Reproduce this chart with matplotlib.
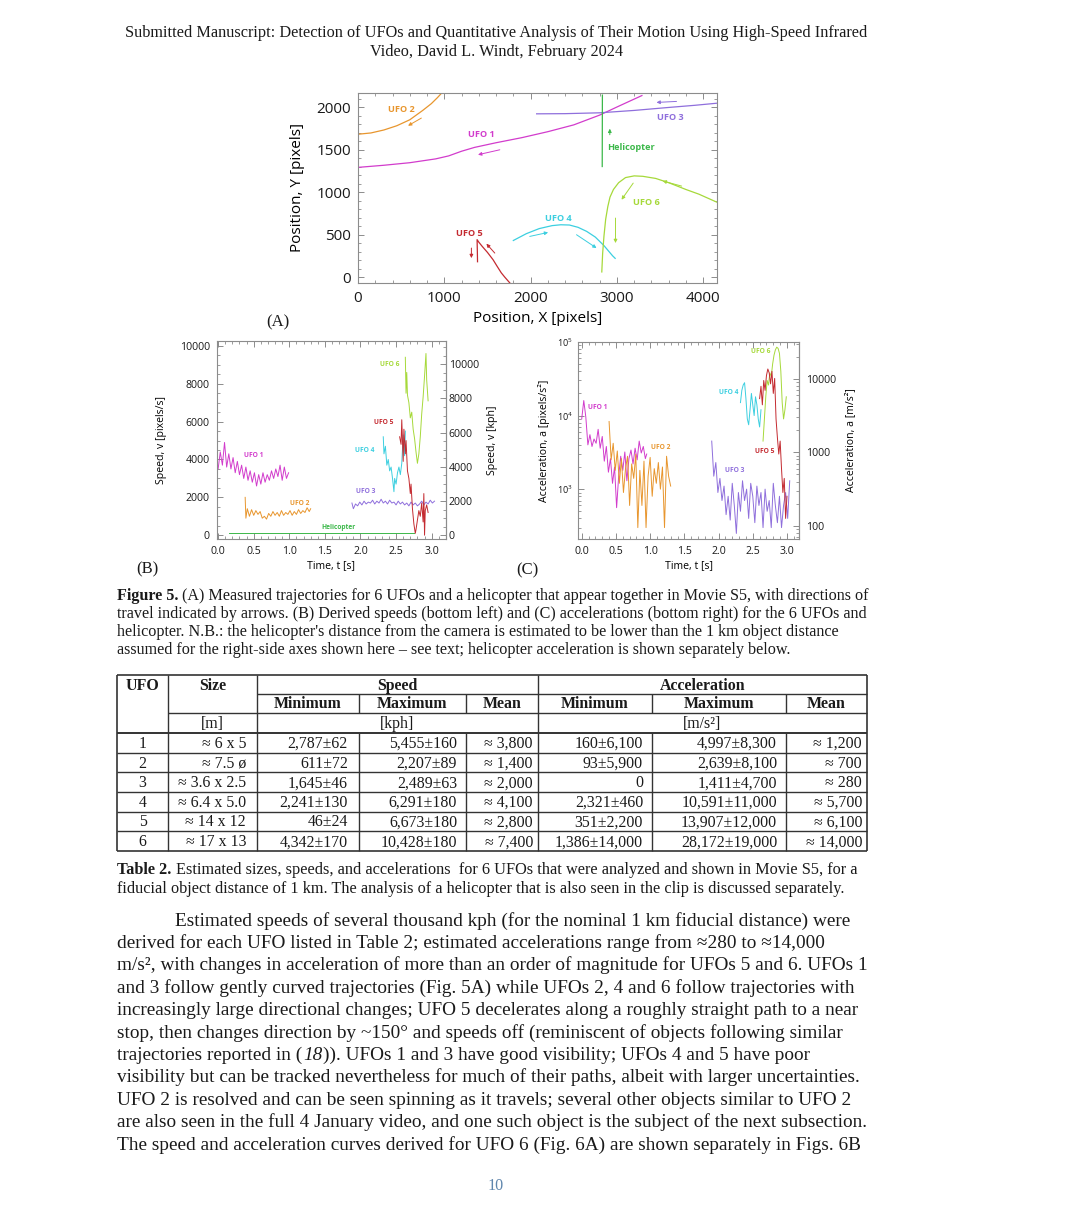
import numpy as np
import matplotlib
matplotlib.use('Agg')
import matplotlib.pyplot as plt
from matplotlib.ticker import (MultipleLocator, AutoMinorLocator, LogLocator,
                               NullFormatter, FixedLocator, FuncFormatter)

plt.rcParams['font.family'] = ['Open Sans', 'DejaVu Sans']
plt.rcParams['mathtext.fontset'] = 'custom'
plt.rcParams['mathtext.rm'] = 'Open Sans'

# ---------------- colours ----------------
C_UFO1 = '#d23ccc'
C_UFO2 = '#e8962e'
C_UFO3 = '#8f6fdc'
C_UFO4 = '#3ccfe0'
C_UFO5 = '#c42a30'
C_UFO6 = '#a6d93a'
C_HELI = '#3cb84a'

# ---------------- Panel A: trajectories (pixels) ----------------
ufo1_x = [0, 300, 600, 900, 1050, 1200, 1350, 1600, 1900, 2200, 2500, 2800, 3000, 3150, 3290]
ufo1_y = [1290, 1315, 1345, 1390, 1425, 1480, 1525, 1580, 1640, 1710, 1790, 1905, 2000, 2070, 2135]
ufo2_x = [0, 150, 300, 450, 600, 750, 850, 920, 970]
ufo2_y = [1680, 1695, 1730, 1780, 1850, 1960, 2040, 2110, 2165]
ufo3_x = [2070, 2400, 2800, 3200, 3600, 3900, 4160]
ufo3_y = [1920, 1922, 1932, 1960, 1995, 2020, 2045]
heli_x = [2830, 2832]
heli_y = [1300, 2140]
ufo4_x = [1800, 1950, 2100, 2250, 2350, 2450, 2550, 2650, 2750, 2850, 2950, 2980]
ufo4_y = [430, 510, 570, 605, 615, 612, 585, 537, 470, 370, 250, 220]
ufo5_x = [1760, 1700, 1660, 1610, 1565, 1500, 1440, 1400, 1380, 1383, 1385]
ufo5_y = [-70, 0, 50, 130, 204, 290, 360, 410, 440, 300, 180]
ufo6_x = [4160, 3950, 3800, 3600, 3450, 3300, 3200, 3100, 3020, 2960, 2920, 2895, 2870, 2850, 2835, 2825]
ufo6_y = [880, 975, 1030, 1110, 1160, 1185, 1190, 1170, 1110, 1030, 940, 830, 680, 480, 280, 60]

# arrows: (tail x, tail y, head x, head y)
arrowsA_ufo1 = [(1643, 1497, 1391, 1439)]
arrowsA_ufo2 = [(734, 1870, 580, 1780)]
arrowsA_ufo3 = [(3691, 2066, 3459, 2054)]
arrowsA_heli = [(2918, 1674, 2918, 1745)]
arrowsA_ufo4 = [(1990, 478, 2203, 525), (2532, 498, 2764, 341)]
arrowsA_ufo5 = [(1314, 341, 1314, 223), (1585, 282, 1488, 392)]
arrowsA_ufo6 = [(3750, 1070, 3530, 1130), (3189, 1105, 3054, 910), (2984, 694, 2984, 400)]

# label positions panel A
labA_names = ['UFO 1', 'UFO 2', 'UFO 3', 'UFO 4', 'UFO 5', 'UFO 6', 'Helicopter']
labA_x = [1430, 502, 3614, 2319, 1295, 3343, 3158]
labA_y = [1674, 1976, 1882, 694, 510, 878, 1529]

# ---------------- Panel B: speeds (pixels/s) ----------------
tB1 = [0.00, 0.03, 0.06, 0.09, 0.12, 0.15, 0.18, 0.21, 0.24, 0.27, 0.30, 0.33, 0.36, 0.39, 0.42, 0.45, 0.48,
       0.51, 0.54, 0.57, 0.60, 0.63, 0.66, 0.69, 0.72, 0.75, 0.78, 0.81, 0.84, 0.87, 0.90, 0.93, 0.96, 0.99]
vB1 = [3500, 4400, 3700, 4900, 3600, 4300, 3500, 4100, 3300, 3900, 3200, 3700, 3000, 3600, 2900, 3400, 2800,
       3300, 2600, 3200, 2700, 3300, 2800, 3200, 2900, 3400, 3000, 3500, 3100, 3700, 2900, 3600, 3000, 3300]
tB2 = [0.38, 0.39, 0.41, 0.44, 0.47, 0.50, 0.53, 0.56, 0.59, 0.62, 0.65, 0.68, 0.71, 0.74, 0.77, 0.80, 0.83,
       0.86, 0.89, 0.92, 0.95, 0.98, 1.01, 1.04, 1.07, 1.10, 1.13, 1.16, 1.19, 1.22, 1.25, 1.28, 1.30]
vB2 = [2000, 900, 1400, 1000, 1350, 1050, 1300, 1100, 1250, 900, 1000, 850, 1150, 1000, 1250, 1050, 1200,
       1000, 1300, 1050, 1200, 1100, 1300, 1050, 1250, 1100, 1350, 1150, 1300, 1200, 1450, 1250, 1400]
tBh = [0.15, 2.75]
vBh = [100, 100]
tB3 = [1.88, 1.90, 1.93, 1.96, 1.99, 2.02, 2.05, 2.08, 2.11, 2.14, 2.17, 2.20, 2.23, 2.26, 2.29, 2.32, 2.35,
       2.38, 2.41, 2.44, 2.47, 2.50, 2.53, 2.56, 2.59, 2.62, 2.65, 2.68, 2.71, 2.74, 2.77, 2.80, 2.83, 2.86,
       2.89, 2.92, 2.95, 2.98, 3.01, 3.04]
vB3 = [1700, 1400, 1650, 1550, 1750, 1600, 1800, 1650, 1750, 1700, 1850, 1650, 1800, 1700, 1900, 1700, 1800,
       1650, 1850, 1700, 1750, 1600, 1800, 1650, 1750, 1600, 1700, 1550, 1750, 1600, 1700, 1550, 1650, 1800,
       1600, 1750, 1650, 1850, 1700, 1800]
tB4 = [2.32, 2.33, 2.35, 2.37, 2.39, 2.41, 2.43, 2.45, 2.47, 2.48, 2.50, 2.52, 2.54, 2.56, 2.58, 2.60, 2.62, 2.63]
vB4 = [5200, 4300, 4700, 3700, 4000, 3400, 3600, 3000, 2300, 3000, 2700, 3300, 3600, 3200, 3800, 5300, 4200, 5500]
tB5 = [2.55, 2.57, 2.58, 2.60, 2.61, 2.63, 2.64, 2.66, 2.68, 2.70, 2.71, 2.73, 2.75, 2.77, 2.78, 2.80, 2.82,
       2.84, 2.86, 2.88, 2.89, 2.90, 2.91, 2.93, 2.95]
vB5 = [5200, 4800, 6100, 3900, 5600, 4300, 5000, 3400, 3000, 2200, 2700, 1400, 600, 100, 300, 800, 1300,
       1000, 1700, 700, 2200, 0, 1300, 1600, 1200]
tB6 = [2.63, 2.64, 2.65, 2.66, 2.68, 2.70, 2.72, 2.74, 2.76, 2.78, 2.80, 2.82, 2.84, 2.86, 2.88, 2.90, 2.92, 2.93, 2.95]
vB6 = [9400, 7500, 8600, 7400, 7000, 6200, 6500, 5600, 5100, 4400, 3800, 4300, 5200, 6400, 7300, 8400, 9600, 8200, 7100]

labB_names = ['UFO 1', 'UFO 2', 'UFO 3', 'UFO 4', 'UFO 5', 'UFO 6', 'Helicopter']
labB_t = [0.50, 1.15, 2.08, 2.06, 2.32, 2.41, 1.69]
labB_v = [4200, 1680, 2290, 4500, 5960, 9000, 390]

KPH_PER_PXS = 1.107          # right-axis conversion for 1 km fiducial distance

# ---------------- Panel C: accelerations (pixels/s^2) ----------------
tC1 = [0.00, 0.03, 0.06, 0.09, 0.12, 0.15, 0.18, 0.21, 0.24, 0.27, 0.30, 0.33, 0.36, 0.39, 0.42, 0.45, 0.48,
       0.51, 0.54, 0.57, 0.60, 0.63, 0.66, 0.69, 0.72, 0.75, 0.78, 0.81, 0.84, 0.87, 0.90, 0.93, 0.95]
aC1 = [9000, 16000, 9500, 4000, 5500, 3800, 4800, 4200, 6500, 3600, 5200, 2400, 3800, 1700, 2600, 1200, 2000,
       560, 1500, 2800, 1800, 3200, 1300, 2600, 3400, 2200, 3600, 2500, 4500, 3100, 3800, 2600, 3000]
tC2 = [0.40, 0.43, 0.46, 0.49, 0.52, 0.55, 0.58, 0.61, 0.64, 0.67, 0.70, 0.73, 0.76, 0.79, 0.82, 0.85, 0.88,
       0.91, 0.94, 0.97, 1.00, 1.03, 1.06, 1.09, 1.12, 1.15, 1.18, 1.21, 1.24, 1.27, 1.30]
aC2 = [8300, 2500, 4200, 1800, 3300, 1200, 2600, 900, 1900, 2800, 600, 2200, 1400, 3000, 300, 1800, 600,
       2400, 300, 1500, 2700, 800, 1900, 1200, 2300, 1000, 2000, 300, 2800, 1500, 1100]
tC3 = [1.90, 1.93, 1.96, 1.99, 2.02, 2.05, 2.08, 2.11, 2.14, 2.17, 2.20, 2.23, 2.26, 2.29, 2.32, 2.35, 2.38,
       2.41, 2.44, 2.47, 2.50, 2.53, 2.56, 2.59, 2.62, 2.65, 2.68, 2.71, 2.74, 2.77, 2.80, 2.83, 2.86, 2.89,
       2.92, 2.95, 2.98, 3.01, 3.04]
aC3 = [4500, 1500, 2300, 900, 1400, 700, 1100, 450, 800, 380, 1200, 600, 250, 900, 500, 1300, 700,
       1000, 400, 1200, 800, 350, 1100, 600, 900, 300, 1000, 500, 700, 300, 1200, 600, 350, 800,
       300, 600, 900, 400, 1300]
tC4 = [2.32, 2.34, 2.36, 2.38, 2.40, 2.42, 2.44, 2.46, 2.48, 2.50, 2.52, 2.54, 2.56, 2.58, 2.60, 2.62]
aC4 = [15000, 22000, 26000, 28000, 17000, 9000, 7500, 12000, 20000, 14000, 10000, 18000, 14000, 9000, 7000, 12000]
tC5 = [2.60, 2.62, 2.64, 2.66, 2.68, 2.70, 2.72, 2.74, 2.76, 2.78, 2.80, 2.82, 2.84, 2.86, 2.88, 2.90, 2.92,
       2.94, 2.96, 2.98, 3.00]
aC5 = [17000, 25000, 14000, 30000, 22000, 35000, 43000, 38000, 27000, 40000, 20000, 32000, 9000, 5000, 3000,
       4500, 1900, 900, 1400, 400, 800]
tC6 = [2.65, 2.67, 2.69, 2.71, 2.73, 2.75, 2.77, 2.79, 2.81, 2.83, 2.85, 2.87, 2.89, 2.91, 2.93, 2.95, 2.97, 2.99]
aC6 = [4500, 9000, 18000, 30000, 26000, 38000, 34000, 50000, 66000, 78000, 85000, 82000, 70000, 40000,
       15000, 9000, 12000, 18000]

labC_names = ['UFO 1', 'UFO 2', 'UFO 3', 'UFO 4', 'UFO 5', 'UFO 6']
labC_t = [0.24, 1.15, 2.24, 2.15, 2.68, 2.62]
labC_a = [13000, 3680, 1820, 20500, 3240, 74000]

MS2_PER_PXS2 = 0.316

# ---------------- Table 2 ----------------
tbl_ufo = ['1', '2', '3', '4', '5', '6']
tbl_size = ['\u2248 6 x 5', '\u2248 7.5 \u00f8', '\u2248 3.6 x 2.5', '\u2248 6.4 x 5.0', '\u2248 14 x 12', '\u2248 17 x 13']
tbl_spd_min = ['2,787\u00b162', '611\u00b172', '1,645\u00b146', '2,241\u00b1130', '46\u00b124', '4,342\u00b1170']
tbl_spd_max = ['5,455\u00b1160', '2,207\u00b189', '2,489\u00b163', '6,291\u00b1180', '6,673\u00b1180', '10,428\u00b1180']
tbl_spd_mean = ['\u2248 3,800', '\u2248 1,400', '\u2248 2,000', '\u2248 4,100', '\u2248 2,800', '\u2248 7,400']
tbl_acc_min = ['160\u00b16,100', '93\u00b15,900', '0', '2,321\u00b1460', '351\u00b12,200', '1,386\u00b114,000']
tbl_acc_max = ['4,997\u00b18,300', '2,639\u00b18,100', '1,411\u00b14,700', '10,591\u00b111,000', '13,907\u00b112,000', '28,172\u00b119,000']
tbl_acc_mean = ['\u2248 1,200', '\u2248 700', '\u2248 280', '\u2248 5,700', '\u2248 6,100', '\u2248 14,000']

# ---------------- Text ----------------
title_lines = ['Submitted Manuscript: Detection of UFOs and Quantitative Analysis of Their Motion Using High-Speed Infrared',
               'Video, David L. Windt, February 2024']
fig_caption_head = 'Figure 5.'
fig_caption = ['(A) Measured trajectories for 6 UFOs and a helicopter that appear together in Movie S5, with directions of',
               'travel indicated by arrows. (B) Derived speeds (bottom left) and (C) accelerations (bottom right) for the 6 UFOs and',
               "helicopter. N.B.: the helicopter's distance from the camera is estimated to be lower than the 1 km object distance",
               'assumed for the right-side axes shown here \u2013 see text; helicopter acceleration is shown separately below.']
tbl_caption_head = 'Table 2.'
tbl_caption = ['Estimated sizes, speeds, and accelerations  for 6 UFOs that were analyzed and shown in Movie S5, for a',
               'fiducial object distance of 1 km. The analysis of a helicopter that is also seen in the clip is discussed separately.']
body_lines = ['Estimated speeds of several thousand kph (for the nominal 1 km fiducial distance) were',
              'derived for each UFO listed in Table 2; estimated accelerations range from \u2248280 to \u224814,000',
              'm/s\u00b2, with changes in acceleration of more than an order of magnitude for UFOs 5 and 6. UFOs 1',
              'and 3 follow gently curved trajectories (Fig. 5A) while UFOs 2, 4 and 6 follow trajectories with',
              'increasingly large directional changes; UFO 5 decelerates along a roughly straight path to a near',
              'stop, then changes direction by ~150\u00b0 and speeds off (reminiscent of objects following similar',
              ['trajectories reported in (', '18', ')). UFOs 1 and 3 have good visibility; UFOs 4 and 5 have poor'],
              'visibility but can be tracked nevertheless for much of their paths, albeit with larger uncertainties.',
              'UFO 2 is resolved and can be seen spinning as it travels; several other objects similar to UFO 2',
              'are also seen in the full 4 January video, and one such object is the subject of the next subsection.',
              'The speed and acceleration curves derived for UFO 6 (Fig. 6A) are shown separately in Figs. 6B']
page_number = '10'

# =====================================================================
W, H = 1080, 1230
fig = plt.figure(figsize=(W / 100, H / 100), dpi=100)
fig.patch.set_facecolor('white')
renderer = fig.canvas.get_renderer()

pg = fig.add_axes([0, 0, 1, 1], zorder=-5)
pg.set_xlim(0, W)
pg.set_ylim(H, 0)
pg.axis('off')

SERIF = ['Liberation Serif', 'DejaVu Serif']
INK = '#1a1a1a'


def px_axes(l, t, r, b):
    return fig.add_axes([l / W, 1 - b / H, (r - l) / W, (b - t) / H])


def text_w(text, size, **kw):
    t = pg.text(0, 0, text, fontsize=size, family=SERIF, **kw)
    w = t.get_window_extent(renderer).width
    t.remove()
    return w


def fit_size(text, target_w, base=12, **kw):
    return base * target_w / text_w(text, base, **kw)


def space_w(size, **kw):
    return text_w('a a', size, **kw) - text_w('aa', size, **kw)


def runs(x, y, parts, size, gaps):
    """parts: list of (text, kwargs); gaps: extra space before each part after the first"""
    for i, (s, kw) in enumerate(parts):
        if i > 0:
            x += gaps[i - 1]
        t = pg.text(x, y, s, fontsize=size, family=SERIF, ha='left', va='baseline', color=INK, **kw)
        x += t.get_window_extent(renderer).width


def style(ax, fs, right=True):
    for s in ax.spines.values():
        s.set_color('#8c8c8c')
        s.set_linewidth(0.8)
    ax.tick_params(which='both', direction='in', color='#8c8c8c', labelsize=fs,
                   top=True, right=right, labelcolor=INK)
    ax.tick_params(which='major', length=4.5, width=0.7)
    ax.tick_params(which='minor', length=2.3, width=0.6)


# ---------------- title ----------------
ts = fit_size(title_lines[0], 738)
pg.text(496, 37, title_lines[0], fontsize=ts, family=SERIF, ha='center', va='baseline', color=INK)
pg.text(497, 56, title_lines[1], fontsize=ts, family=SERIF, ha='center', va='baseline', color=INK)

# ---------------- Panel A ----------------
axA = px_axes(358, 93, 717, 283)
style(axA, 11)
A_series = [(ufo1_x, ufo1_y, C_UFO1), (ufo2_x, ufo2_y, C_UFO2), (ufo3_x, ufo3_y, C_UFO3),
            (heli_x, heli_y, C_HELI), (ufo4_x, ufo4_y, C_UFO4), (ufo5_x, ufo5_y, C_UFO5),
            (ufo6_x, ufo6_y, C_UFO6)]
for xs, ys, c in A_series:
    axA.plot(xs, ys, color=c, lw=0.9)
A_arrows = [(arrowsA_ufo1, C_UFO1), (arrowsA_ufo2, C_UFO2), (arrowsA_ufo3, C_UFO3), (arrowsA_heli, C_HELI),
            (arrowsA_ufo4, C_UFO4), (arrowsA_ufo5, C_UFO5), (arrowsA_ufo6, C_UFO6)]
for arrs, c in A_arrows:
    for (x0, y0, x1, y1) in arrs:
        axA.annotate('', xy=(x1, y1), xytext=(x0, y0),
                     arrowprops=dict(arrowstyle='-|>', color=c, lw=0.7, mutation_scale=5,
                                     shrinkA=0, shrinkB=0))
labA_colors = [C_UFO1, C_UFO2, C_UFO3, C_UFO4, C_UFO5, C_UFO6, C_HELI]
for n, x, y, c in zip(labA_names, labA_x, labA_y, labA_colors):
    axA.text(x, y, n, color=c, fontsize=6.6, fontweight='bold', ha='center', va='center')
axA.set_xlim(0, 4160)
axA.set_ylim(-70, 2165)
axA.xaxis.set_major_locator(MultipleLocator(1000))
axA.xaxis.set_minor_locator(MultipleLocator(200))
axA.yaxis.set_major_locator(MultipleLocator(500))
axA.yaxis.set_minor_locator(MultipleLocator(100))
axA.tick_params(axis='x', pad=6)
axA.tick_params(axis='y', pad=5)
axA.set_xlabel('Position, X [pixels]', fontsize=11, labelpad=3)
axA.set_ylabel('Position, Y [pixels]', fontsize=11, labelpad=8)
pg.text(278, 326, '(A)', fontsize=12, family=SERIF, ha='center', va='baseline', color=INK)

# ---------------- Panel B ----------------
axB = px_axes(216.7, 341, 445.9, 539)
style(axB, 7.6, right=False)
B_series = [(tBh, vBh, C_HELI), (tB1, vB1, C_UFO1), (tB2, vB2, C_UFO2), (tB3, vB3, C_UFO3),
            (tB4, vB4, C_UFO4), (tB6, vB6, C_UFO6), (tB5, vB5, C_UFO5)]
for ts_, vs_, c in B_series:
    axB.plot(ts_, vs_, color=c, lw=0.7)
labB_colors = [C_UFO1, C_UFO2, C_UFO3, C_UFO4, C_UFO5, C_UFO6, C_HELI]
for n, x, y, c in zip(labB_names, labB_t, labB_v, labB_colors):
    axB.text(x, y, n, color=c, fontsize=4.8, fontweight='bold', ha='center', va='center')
axB.set_xlim(-0.02, 3.2)
axB.set_ylim(-200, 10260)
axB.xaxis.set_major_locator(MultipleLocator(0.5))
axB.xaxis.set_minor_locator(MultipleLocator(0.1))
axB.xaxis.set_major_formatter(FuncFormatter(lambda v, p: f'{v:.1f}'))
axB.yaxis.set_major_locator(MultipleLocator(2000))
axB.yaxis.set_minor_locator(AutoMinorLocator(4))
axB.tick_params(axis='x', pad=5)
axB.tick_params(axis='y', pad=5)
axB.set_xlabel('Time, t [s]', fontsize=7.6, labelpad=2)
axB.set_ylabel('Speed, v [pixels/s]', fontsize=7.6, labelpad=9)
secB = axB.secondary_yaxis('right', functions=(lambda v: v * KPH_PER_PXS, lambda v: v / KPH_PER_PXS))
secB.yaxis.set_major_locator(MultipleLocator(2000))
secB.yaxis.set_minor_locator(AutoMinorLocator(4))
secB.tick_params(which='both', direction='in', color='#8c8c8c', labelsize=7.6, labelcolor=INK, pad=2)
secB.tick_params(which='major', length=4.5, width=0.7)
secB.tick_params(which='minor', length=2.3, width=0.6)
secB.spines['right'].set_color('#8c8c8c')
secB.spines['right'].set_linewidth(0.8)
secB.set_ylabel('Speed, v [kph]', fontsize=7.6, labelpad=6)
pg.text(147, 573, '(B)', fontsize=12, family=SERIF, ha='center', va='baseline', color=INK)

# ---------------- Panel C ----------------
axC = px_axes(578.3, 342, 799.3, 539)
style(axC, 7.6, right=False)
C_series = [(tC1, aC1, C_UFO1), (tC2, aC2, C_UFO2), (tC3, aC3, C_UFO3), (tC4, aC4, C_UFO4),
            (tC6, aC6, C_UFO6), (tC5, aC5, C_UFO5)]
for ts_, as_, c in C_series:
    axC.plot(ts_, as_, color=c, lw=0.7)
labC_colors = [C_UFO1, C_UFO2, C_UFO3, C_UFO4, C_UFO5, C_UFO6]
for n, x, y, c in zip(labC_names, labC_t, labC_a, labC_colors):
    axC.text(x, y, n, color=c, fontsize=4.8, fontweight='bold', ha='center', va='center')
axC.set_yscale('log')
axC.set_xlim(-0.05, 3.18)
axC.set_ylim(210, 1e5)
axC.xaxis.set_major_locator(MultipleLocator(0.5))
axC.xaxis.set_minor_locator(MultipleLocator(0.1))
axC.xaxis.set_major_formatter(FuncFormatter(lambda v, p: f'{v:.1f}'))
axC.yaxis.set_major_locator(FixedLocator([1e3, 1e4, 1e5]))
axC.yaxis.set_minor_locator(LogLocator(base=10, subs=np.arange(2, 10)))
axC.yaxis.set_minor_formatter(NullFormatter())
axC.tick_params(axis='x', pad=5)
axC.tick_params(axis='y', pad=4, labelsize=6.5)
axC.set_xlabel('Time, t [s]', fontsize=7.6, labelpad=2)
axC.set_ylabel('Acceleration, a [pixels/s\u00b2]', fontsize=7.6, labelpad=5)
secC = axC.secondary_yaxis('right', functions=(lambda a: a * MS2_PER_PXS2, lambda a: a / MS2_PER_PXS2))
secC.yaxis.set_major_locator(FixedLocator([100, 1000, 10000]))
secC.yaxis.set_major_formatter(FuncFormatter(lambda v, p: f'{v:.0f}'))
secC.yaxis.set_minor_locator(LogLocator(base=10, subs=np.arange(2, 10)))
secC.yaxis.set_minor_formatter(NullFormatter())
secC.tick_params(which='both', direction='in', color='#8c8c8c', labelsize=7.6, labelcolor=INK, pad=5)
secC.tick_params(which='major', length=4.5, width=0.7)
secC.tick_params(which='minor', length=2.3, width=0.6)
secC.spines['right'].set_color('#8c8c8c')
secC.spines['right'].set_linewidth(0.8)
secC.set_ylabel('Acceleration, a [m/s\u00b2]', fontsize=7.6, labelpad=6)
pg.text(527, 574, '(C)', fontsize=12, family=SERIF, ha='center', va='baseline', color=INK)

# ---------------- figure caption ----------------
cs = fit_size(fig_caption[1], 750)
cap_y = [595, 613, 632, 650]
runs(117, cap_y[0] + 4.5, [(fig_caption_head, dict(fontweight='bold')), (fig_caption[0], {})], cs,
     [space_w(cs)])
for s, y in zip(fig_caption[1:], cap_y[1:]):
    pg.text(117, y + 4.5, s, fontsize=cs, family=SERIF, ha='left', va='baseline', color=INK)

# ---------------- table ----------------
col_x = [117, 168.3, 256.7, 358.5, 466, 538, 652, 786, 866.7]
row_top, h1, h2, h3 = 675, 694, 713, 733
row_bot = 851
n_rows = len(tbl_ufo)
row_h = (row_bot - h3) / n_rows
lc = '#333333'
lw = 1.0


def hline(y, x0, x1, w=lw):
    pg.plot([x0, x1], [y, y], color=lc, lw=w, solid_capstyle='butt')


def vline(x, y0, y1, w=lw):
    pg.plot([x, x], [y0, y1], color=lc, lw=w, solid_capstyle='butt')


hline(row_top, col_x[0], col_x[-1], 1.2)
hline(h1, col_x[2], col_x[-1])
hline(h2, col_x[1], col_x[-1])
hline(h3, col_x[0], col_x[-1], 1.4)
for i in range(1, n_rows):
    hline(h3 + i * row_h, col_x[0], col_x[-1])
hline(row_bot, col_x[0], col_x[-1], 1.2)
for x in (col_x[0], col_x[1], col_x[2], col_x[5], col_x[-1]):
    vline(x, row_top, row_bot, 1.2 if x in (col_x[0], col_x[-1]) else lw)
for x in (col_x[3], col_x[4], col_x[6], col_x[7]):
    vline(x, h1, h2)
    vline(x, h3, row_bot)

tfs = fit_size('Acceleration', 85, weight='bold')
tf = dict(fontsize=tfs, family=SERIF, color=INK, va='baseline')
off = 5
pg.text((col_x[0] + col_x[1]) / 2, 684.5 + off, 'UFO', ha='center', fontweight='bold', **tf)
pg.text((col_x[1] + col_x[2]) / 2, 684.5 + off, 'Size', ha='center', fontweight='bold', **tf)
pg.text((col_x[2] + col_x[5]) / 2, 684.5 + off, 'Speed', ha='center', fontweight='bold', **tf)
pg.text((col_x[5] + col_x[-1]) / 2, 684.5 + off, 'Acceleration', ha='center', fontweight='bold', **tf)
for (a, b), s in zip([(2, 3), (3, 4), (4, 5), (5, 6), (6, 7), (7, 8)],
                     ['Minimum', 'Maximum', 'Mean', 'Minimum', 'Maximum', 'Mean']):
    pg.text((col_x[a] + col_x[b]) / 2, 703.5 + off, s, ha='center', fontweight='bold', **tf)
pg.text((col_x[1] + col_x[2]) / 2, 723 + off, '[m]', ha='center', **tf)
pg.text((col_x[2] + col_x[5]) / 2, 723 + off, '[kph]', ha='center', **tf)
pg.text((col_x[5] + col_x[-1]) / 2, 723 + off, '[m/s\u00b2]', ha='center', **tf)
right_edges = [246, 348, 457, 533, 643, 777, 862]
cols = [tbl_size, tbl_spd_min, tbl_spd_max, tbl_spd_mean, tbl_acc_min, tbl_acc_max, tbl_acc_mean]
for i in range(n_rows):
    yc = h3 + (i + 0.5) * row_h + off
    pg.text((col_x[0] + col_x[1]) / 2, yc, tbl_ufo[i], ha='center', **tf)
    for rx, col in zip(right_edges, cols):
        pg.text(rx, yc, col[i], ha='right', **tf)

# ---------------- table caption ----------------
tcs = fit_size(tbl_caption[1], 720)
runs(117, 870 + 4.5, [(tbl_caption_head, dict(fontweight='bold')), (tbl_caption[0], {})], tcs,
     [space_w(tcs)])
pg.text(117, 888.5 + 4.5, tbl_caption[1], fontsize=tcs, family=SERIF, ha='left', va='baseline', color=INK)

# ---------------- body text ----------------
bs = fit_size(body_lines[9], 751)
body_y = [920, 942.4, 964.8, 987.2, 1009.6, 1032, 1054.4, 1076.8, 1099.2, 1121.6, 1144]
for i, (s, y) in enumerate(zip(body_lines, body_y)):
    x0 = 175 if i == 0 else 117
    if isinstance(s, list):
        runs(x0, y + 5.5, [(s[0], {}), (s[1], dict(style='italic')), (s[2], {})], bs, [1.0, 1.0])
    else:
        pg.text(x0, y + 5.5, s, fontsize=bs, family=SERIF, ha='left', va='baseline', color=INK)

pg.text(496, 1190, page_number, fontsize=cs, family=SERIF, ha='center', va='baseline', color='#5f86ad')

fig.savefig('out.png', dpi=100, facecolor='white')
